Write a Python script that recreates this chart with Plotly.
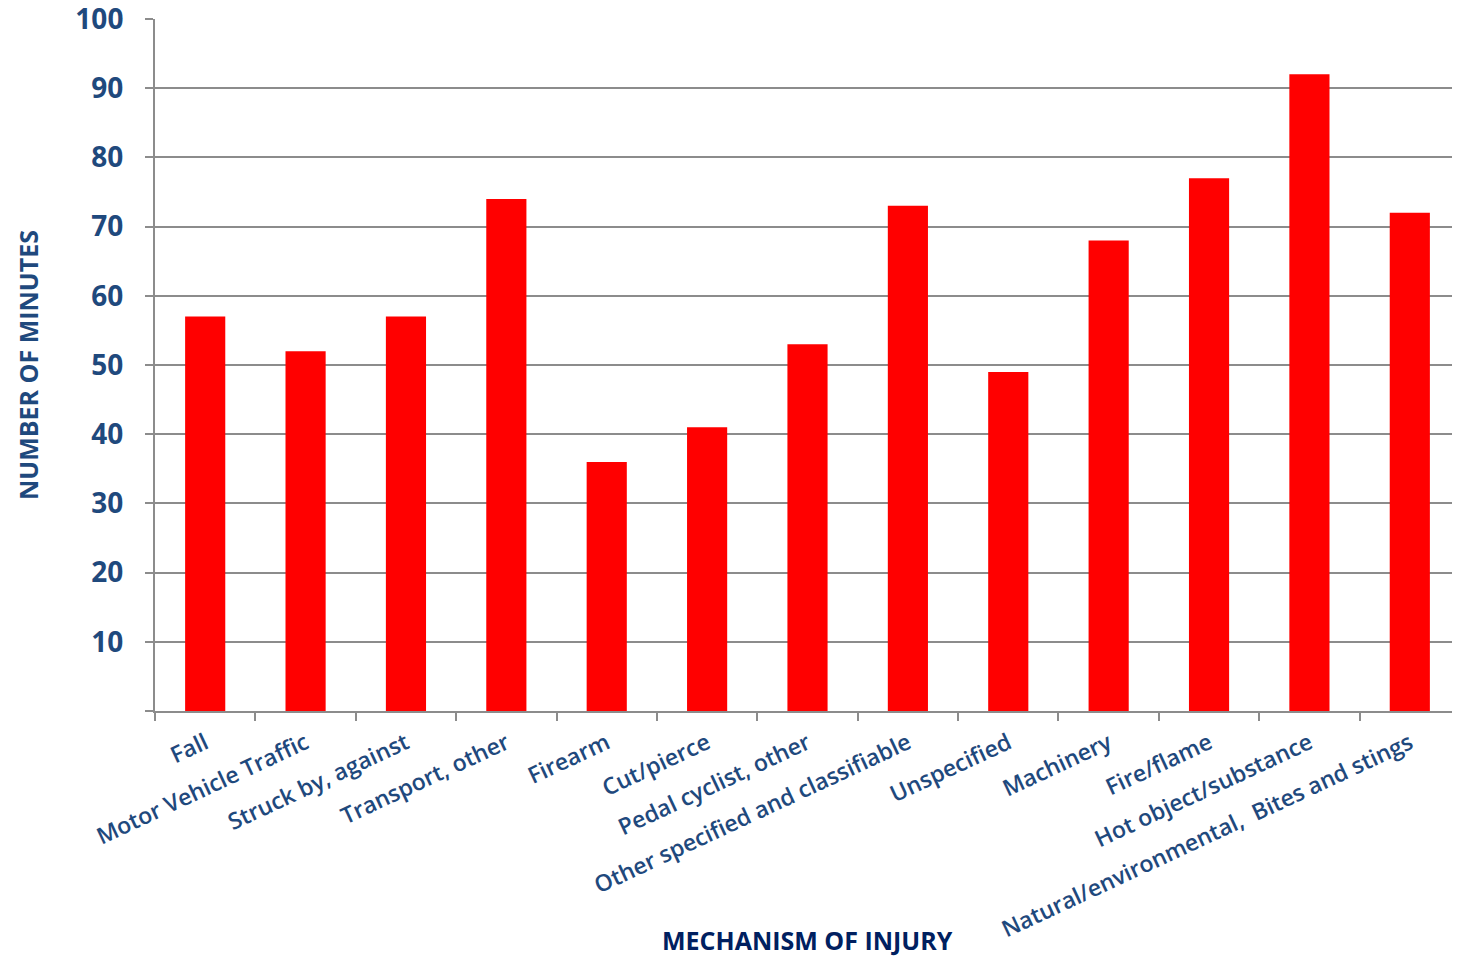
import plotly.graph_objects as go

categories = ["Fall", "Motor Vehicle Traffic", "Struck by, against", "Transport, other",
              "Firearm", "Cut/pierce", "Pedal cyclist, other", "Other specified and classifiable",
              "Unspecified", "Machinery", "Fire/flame", "Hot object/substance",
              "Natural/environmental,  Bites and stings"]
minutes = [57, 52, 57, 74, 36, 41, 53, 73, 49, 68, 77, 92, 72]
y_tickvals = [0, 10, 20, 30, 40, 50, 60, 70, 80, 90, 100]
y_ticktext = [""] + [str(v) for v in y_tickvals[1:]]

label_color = "#1F497D"
grid_color = "#8C8C8C"

fig = go.Figure(go.Bar(x=categories, y=minutes, marker_color="#FF0000",
                       marker_line_width=0))

fig.update_layout(
    width=1452, height=950,
    margin=dict(l=147, r=0, t=11, b=247),
    plot_bgcolor="white", paper_bgcolor="white",
    bargap=0.6, showlegend=False,
    font=dict(family="Open Sans", color=label_color),
)
fig.update_xaxes(
    automargin=False,
    tickangle=-25, tickfont=dict(size=23, family="Open Sans", color=label_color, weight=600),
    ticklabelstandoff=8,
    showline=True, linecolor=grid_color, linewidth=2,
    ticks="outside", tickson="boundaries", ticklen=8, tickcolor=grid_color, tickwidth=2,
)
fig.update_yaxes(
    automargin=False,
    range=[0, 100], tickvals=y_tickvals, ticktext=y_ticktext,
    tickfont=dict(size=28, family="Open Sans", color=label_color, weight="bold"),
    ticklabelstandoff=16, ticklabeloverflow="allow",
    showgrid=True, gridcolor=grid_color, gridwidth=2,
    showline=True, linecolor=grid_color, linewidth=2,
    ticks="outside", ticklen=8, tickcolor=grid_color, tickwidth=2,
    zeroline=False,
)
fig.add_annotation(
    text="<b>NUMBER OF MINUTES</b>", xref="paper", yref="paper", x=0, y=0.5,
    xanchor="center", yanchor="middle", xshift=-127, textangle=-90, showarrow=False,
    font=dict(size=25, color=label_color, family="Open Sans"),
)
fig.add_annotation(
    text="<b>MECHANISM OF INJURY</b>", xref="paper", yref="paper", x=0.5, y=0,
    xanchor="center", yanchor="middle", yshift=-229, showarrow=False,
    font=dict(size=25, color="#002060", family="Open Sans"),
)

fig.write_html("out.html")
